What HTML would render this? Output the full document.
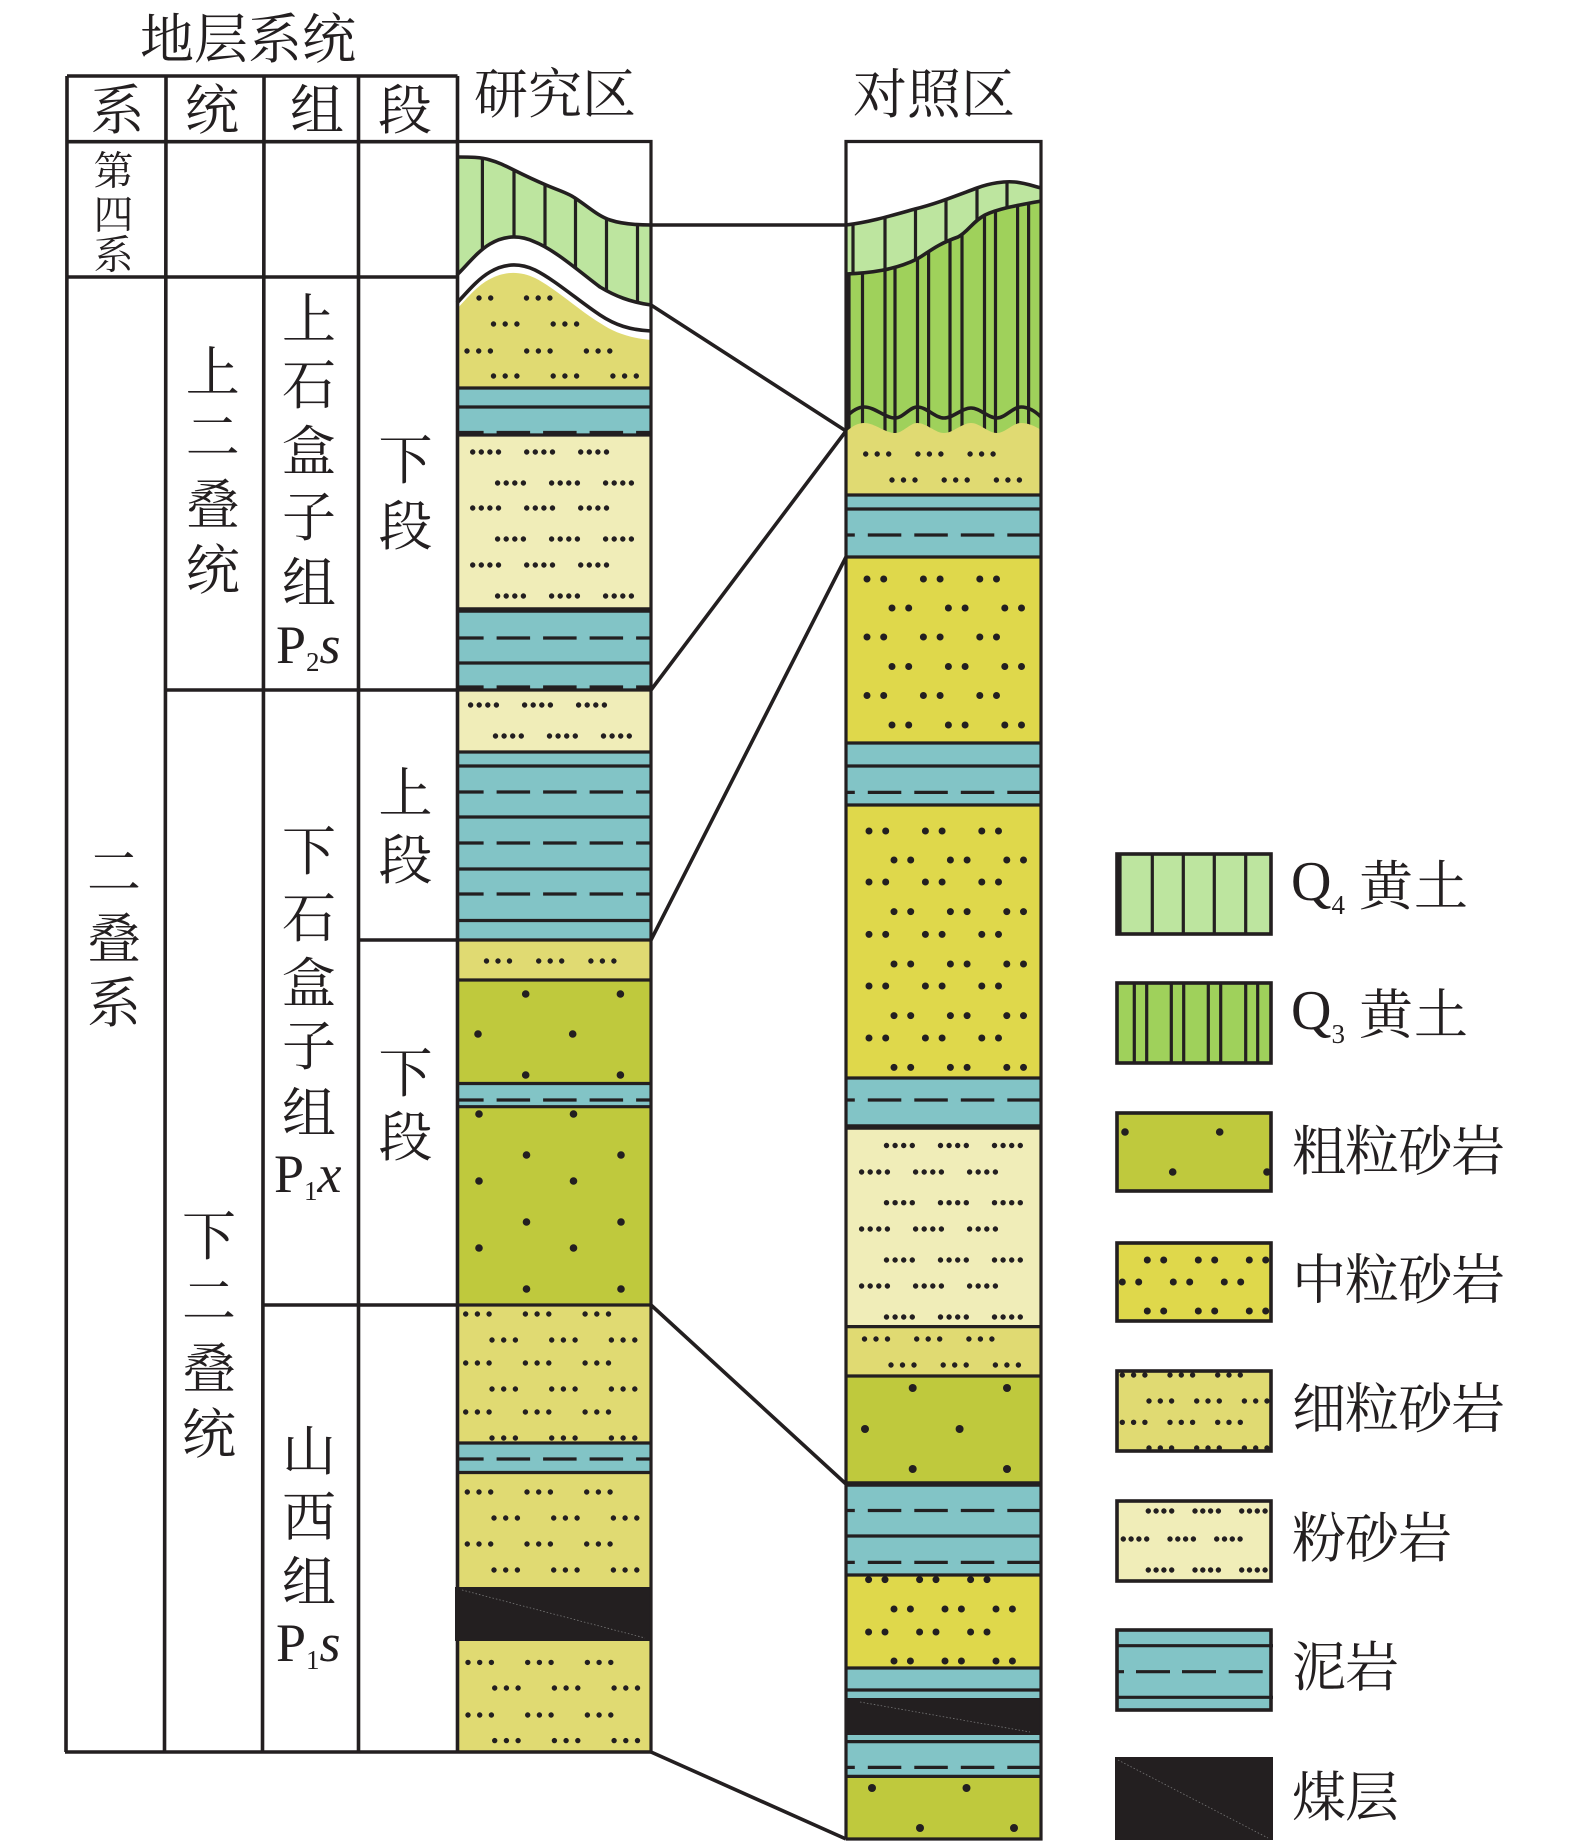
<!DOCTYPE html>
<html lang="zh"><head><meta charset="utf-8"><title>地层对比柱状图</title>
<style>
html,body{margin:0;padding:0;background:#fff}
svg{display:block}
.l{stroke:#231f20;stroke-width:3.2;fill:none}
.b{stroke:#231f20;stroke-width:3.6;fill:none}
.k{stroke:#231f20;stroke-width:5.5;fill:none}
.d{stroke:#231f20;stroke-width:3.2;fill:none;stroke-dasharray:33.5 13}
.da{stroke-dashoffset:6.9}.db{stroke-dashoffset:24.7}
.f,.g,.h,.s,.t,.m,.n{stroke:#231f20;fill:none;stroke-linecap:round;stroke-width:5.4}
.f{stroke-dasharray:0 11.7 0 11.7 0 36.3}
.g{stroke-dasharray:0 11.5 0 11.5 0 29.2}
.h{stroke-dasharray:0 11.3 0 11.3 0 25.1}
.s{stroke-dasharray:0 8.6 0 8.6 0 8.6 0 28.2}
.t{stroke-dasharray:0 7.8 0 7.8 0 7.8 0 23.3}
.m{stroke-width:7;stroke-dasharray:0 16.7 0 39.7}
.n{stroke-width:7;stroke-dasharray:0 16.4 0 34.6}
text{font-family:"Liberation Serif","Noto Serif CJK SC",serif;fill:#231f20}
.c{font-size:54px;text-anchor:middle;dominant-baseline:central;transform:translateY(3px)}
.c2{font-size:40px;text-anchor:middle;dominant-baseline:central;transform:translateY(3px)}
.p{font-size:54px}
.q{font-size:56px}
.sub{font-size:27px}
.dot{fill:#231f20}
.fa{stroke:#777;stroke-width:.8;stroke-dasharray:1.5 2;fill:none}
</style></head><body>
<svg width="1575" height="1842" viewBox="0 0 1575 1842" xmlns="http://www.w3.org/2000/svg">
<defs>
<clipPath id="qa"><path d="M457 157C470 157 481 157 490 160C505 164 515 172 546 185C560 191 568 193 575 198C590 208 598 216 610 220C622 224 636 225 651 225L651 305C630 302 615 296 600 287C580 272 555 250 535 242C520 235 505 235 490 244C478 251 468 264 457 275Z"/></clipPath>
<clipPath id="qb"><path d="M846 225C870 222 890 216 915 209C935 204 950 198 977 188C990 183 1005 181 1015 182C1025 183 1033 186 1041 188L1041 280L846 280Z"/></clipPath>
<clipPath id="qc"><path d="M846 274C870 273 895 270 917 259C928 253 935 245 958 237C968 232 972 222 985 215C1000 208 1020 205 1041 201L1041 440L846 440Z"/></clipPath>
</defs>

<!-- Column A fills -->
<path fill="#bde59f" d="M457 157C470 157 481 157 490 160C505 164 515 172 546 185C560 191 568 193 575 198C590 208 598 216 610 220C622 224 636 225 651 225L651 305C630 302 615 296 600 287C580 272 555 250 535 242C520 235 505 235 490 244C478 251 468 264 457 275Z"/>
<path fill="#e0da72" d="M457 309C468 297 478 285 490 279C505 271 520 271 535 278C555 288 580 311 600 323C615 333 630 338 651 340L651 388L457 388Z"/>
<rect x="457" y="388" width="194" height="46" fill="#82c4c6"/>
<rect x="457" y="434" width="194" height="176" fill="#f0edb8"/>
<rect x="457" y="610" width="194" height="80" fill="#82c4c6"/>
<rect x="457" y="690" width="194" height="62" fill="#f0edb8"/>
<rect x="457" y="752" width="194" height="188" fill="#82c4c6"/>
<rect x="457" y="940" width="194" height="40" fill="#e0da72"/>
<rect x="457" y="980" width="194" height="104" fill="#bfc93d"/>
<rect x="457" y="1084" width="194" height="23" fill="#82c4c6"/>
<rect x="457" y="1107" width="194" height="198" fill="#bfc93d"/>
<rect x="457" y="1305" width="194" height="138" fill="#e0da72"/>
<rect x="457" y="1443" width="194" height="30" fill="#82c4c6"/>
<rect x="457" y="1473" width="194" height="114" fill="#e0da72"/>
<rect x="455" y="1587" width="197" height="54" fill="#231f20"/>
<path class="fa" d="M462 1590L645 1638"/>
<rect x="457" y="1641" width="194" height="111" fill="#e0da72"/>

<!-- Column A Q4 verticals & curves -->
<g clip-path="url(#qa)" class="l">
<path class="l" d="M482.4 150V300M514 150V300M545 150V300M575.5 150V300M606.5 150V300M637.5 150V320"/>
</g>
<path class="b" d="M457 157C470 157 481 157 490 160C505 164 515 172 546 185C560 191 568 193 575 198C590 208 598 216 610 220C622 224 636 225 651 225"/>
<path class="b" d="M651 305C630 302 615 296 600 287C580 272 555 250 535 242C520 235 505 235 490 244C478 251 468 264 457 275"/>
<path class="b" d="M457 303C468 291 478 279 490 272C505 263 520 263 535 270C555 280 580 302 600 315C615 325 630 330 651 331"/>

<!-- Column A lines -->
<path class="l" d="M457 388H651M457 407H651M457 435H651"/>
<path class="d da" d="M457 432.5H651"/>
<path class="k" d="M457 610H651"/>
<path class="d da" d="M457 638H651"/>
<path class="l" d="M457 663H651M457 690H651M457 752H651M457 766H651M457 817H651M457 869H651M457 920.5H651M457 940H651M457 980H651M457 1083.5H651M457 1106.7H651M457 1305H651M457 1443H651M457 1472.5H651"/>
<path class="d da" d="M457 687H651M457 792H651M457 843H651M457 894H651M457 1100H651M457 1459H651"/>

<!-- Column A dots -->
<path class="f" d="M479 298h12M526.5 298h24M493.5 324h84M467 351h144M493.5 376h144"/>
<path class="s" d="M472.7 452h134M497.6 483h134M472.7 508h134M497.6 539h134M472.7 565h134M497.6 596h134M470.6 705h134M495.5 736h134"/>
<path class="g" d="M486.5 961h128"/>
<g class="dot">
<circle cx="525.7" cy="994" r="3.8"/><circle cx="620.4" cy="994" r="3.8"/>
<circle cx="478" cy="1034" r="3.8"/><circle cx="572.7" cy="1034" r="3.8"/>
<circle cx="525.7" cy="1075" r="3.8"/><circle cx="620.4" cy="1075" r="3.8"/>
<circle cx="479" cy="1114" r="3.8"/><circle cx="573.5" cy="1114" r="3.8"/>
<circle cx="526.5" cy="1155" r="3.8"/><circle cx="621" cy="1155" r="3.8"/>
<circle cx="479" cy="1181" r="3.8"/><circle cx="573.5" cy="1181" r="3.8"/>
<circle cx="526.5" cy="1222" r="3.8"/><circle cx="621" cy="1222" r="3.8"/>
<circle cx="479" cy="1248" r="3.8"/><circle cx="573.5" cy="1248" r="3.8"/>
<circle cx="526.5" cy="1289" r="3.8"/><circle cx="621" cy="1289" r="3.8"/>
</g>
<path class="f" d="M465.7 1314h144M492 1340h144M465.7 1363h144M492 1389h144M465.7 1412h144M492 1438h144M467.3 1492h144M494 1518h144M467.3 1544h144M494 1570h144M468 1662.4h144M494.7 1688h144M468 1715h144M494.7 1740.6h144"/>

<!-- Column B fills -->
<path fill="#bde59f" d="M846 225C870 222 890 216 915 209C935 204 950 198 977 188C990 183 1005 181 1015 182C1025 183 1033 186 1041 188L1041 280L846 280Z"/>
<g clip-path="url(#qb)"><path class="l" d="M853 170V290M885 170V290M915.5 170V290M946 170V290M977 170V290M1007 170V290"/></g>
<path fill="#9fd15b" d="M846 274C870 273 895 270 917 259C928 253 935 245 958 237C968 232 972 222 985 215C1000 208 1020 205 1041 201L1041 440L846 440Z"/>
<g clip-path="url(#qc)"><path class="l" d="M849 190V440M862.5 190V440M885 190V440M895 190V440M917.5 190V440M928.6 190V440M950 190V440M962 190V440M984.5 190V440M995.5 190V440M1017.6 190V440M1028.6 190V440"/></g>
<path fill="#e0da72" d="M846 432C852 426 858 423 864 423C875 423 885 433 895 433C903 433 910 423 917 423C927 423 935 433 944 433C953 433 962 423 971 423C980 423 988 433 997 433C1005 433 1013 423 1021 423C1028 423 1035 426 1041 430L1041 495L846 495Z"/>
<path class="b" d="M846 225C870 222 890 216 915 209C935 204 950 198 977 188C990 183 1005 181 1015 182C1025 183 1033 186 1041 188"/>
<path class="b" d="M846 274C870 273 895 270 917 259C928 253 935 245 958 237C968 232 972 222 985 215C1000 208 1020 205 1041 201"/>
<path class="b" d="M846 417C852 411 858 407 864 407C875 407 885 418 895 418C903 418 910 407 917 407C927 407 935 418 944 418C953 418 962 408 971 408C980 408 988 418 997 418C1005 418 1013 407 1021 407C1028 407 1035 411 1041 417"/>
<rect x="846" y="495" width="195" height="62" fill="#82c4c6"/>
<rect x="846" y="557" width="195" height="186" fill="#dfd84b"/>
<rect x="846" y="743" width="195" height="62" fill="#82c4c6"/>
<rect x="846" y="805" width="195" height="273" fill="#dfd84b"/>
<rect x="846" y="1078" width="195" height="49" fill="#82c4c6"/>
<rect x="846" y="1127" width="195" height="200" fill="#f0edb8"/>
<rect x="846" y="1327" width="195" height="49" fill="#e0da72"/>
<rect x="846" y="1376" width="195" height="108" fill="#bfc93d"/>
<rect x="846" y="1484" width="195" height="91" fill="#82c4c6"/>
<rect x="846" y="1575" width="195" height="93" fill="#dfd84b"/>
<rect x="846" y="1668" width="195" height="30" fill="#82c4c6"/>
<rect x="846" y="1698" width="195" height="37" fill="#231f20"/>
<path class="fa" d="M860 1702L1030 1732"/>
<rect x="846" y="1735" width="195" height="41" fill="#82c4c6"/>
<rect x="846" y="1776" width="195" height="63" fill="#bfc93d"/>

<!-- Column B lines -->
<path class="l" d="M846 495H1041M846 509H1041M846 557H1041M846 743H1041M846 766H1041M846 805H1041M846 1078H1041M846 1326.6H1041M846 1376H1041M846 1536H1041M846 1575H1041M846 1668H1041M846 1690H1041M846 1741.6H1041M846 1776.4H1041"/>
<path class="k" d="M846 1127H1041M846 1484H1041"/>
<path class="d db" d="M846 535H1041M846 792.4H1041M846 1100H1041M846 1510.5H1041M846 1562.4H1041M846 1767.4H1041"/>

<!-- Column B dots -->
<path class="g" d="M865.7 454h128M892 480h128M864.5 1339h128M891 1365h128"/>
<path class="m" d="M867 579h130M892 608h130M867 637h130M892 666.5h130M867 695.5h130M892 725h130M869 831h130M894 860h130M869 882h130M894 911.6h130M869 934.4h130M894 964h130M869 986h130M894 1015.6h130M869 1038h130M894 1067.4h130"/>
<path class="s" d="M886.5 1145.5h134M861.6 1172h134M886.5 1202.7h134M861.6 1229h134M886.5 1260h134M861.6 1286h134M886.5 1317h134"/>
<path class="n" d="M868.6 1579.6h119M894 1609h119M868.6 1632h119M894 1661h119"/>
<g class="dot">
<circle cx="912.7" cy="1388" r="4"/><circle cx="1007" cy="1388" r="4"/>
<circle cx="865" cy="1429" r="4"/><circle cx="959.6" cy="1429" r="4"/>
<circle cx="912.7" cy="1469" r="4"/><circle cx="1007" cy="1469" r="4"/>
<circle cx="872" cy="1788" r="4"/><circle cx="966.5" cy="1788" r="4"/>
<circle cx="920" cy="1828" r="4"/><circle cx="1014" cy="1828" r="4"/>
</g>

<!-- Column outlines -->
<path class="l" d="M457.5 141.5H651V1752M846 1839V141.5H1041V1839H846"/>

<!-- Connectors -->
<path class="b" d="M651 225H846M651 305L846 431M651 690L846 431M651 940L846 557M651 1305L846 1484M651 1752L846 1839"/>

<!-- Table -->
<path class="b" d="M67 76H457.5M67 141.7H457.5M67 277H457.5M165 690H457.5M358.5 940H457.5M263.5 1305H457.5M65 1752H651"/>
<path class="b" d="M67 76L66 1752M166 76L164.5 1752M264 76L262.5 1752M358.5 76V1752M457.5 76V1752"/>

<!-- Table text -->
<text class="c" x="248" y="37">地层系统</text>
<text class="c" x="117.5" y="108">系</text><text class="c" x="212" y="108">统</text><text class="c" x="317" y="108">组</text><text class="c" x="405" y="108">段</text>
<text class="c" x="555" y="92">研究区</text><text class="c" x="934" y="92">对照区</text>
<text class="c2" x="113.5" y="168">第</text><text class="c2" x="113.5" y="212">四</text><text class="c2" x="113.5" y="252">系</text>
<text class="c" x="114" y="870">二</text><text class="c" x="114" y="937">叠</text><text class="c" x="114" y="1001">系</text>
<text class="c" x="212.7" y="370">上</text><text class="c" x="212.7" y="435">二</text><text class="c" x="212.7" y="503">叠</text><text class="c" x="212.7" y="568">统</text>
<text class="c" x="309" y="317">上</text><text class="c" x="309" y="383">石</text><text class="c" x="309" y="449">盒</text><text class="c" x="309" y="515">子</text><text class="c" x="309" y="581">组</text>
<text class="p" x="276" y="663">P<tspan class="sub" dy="8">2</tspan><tspan font-style="italic" dy="-8">s</tspan></text>
<text class="c" x="405.5" y="458">下</text><text class="c" x="405.5" y="524">段</text>
<text class="c" x="405.5" y="791">上</text><text class="c" x="405.5" y="858">段</text>
<text class="c" x="405.5" y="1071">下</text><text class="c" x="405.5" y="1135">段</text>
<text class="c" x="309" y="849">下</text><text class="c" x="309" y="916">石</text><text class="c" x="309" y="981">盒</text><text class="c" x="309" y="1044">子</text><text class="c" x="309" y="1111">组</text>
<text class="p" x="274" y="1192">P<tspan class="sub" dy="8">1</tspan><tspan font-style="italic" dy="-8">x</tspan></text>
<text class="c" x="209" y="1234">下</text><text class="c" x="209" y="1299">二</text><text class="c" x="209" y="1367">叠</text><text class="c" x="209" y="1432">统</text>
<text class="c" x="309" y="1449">山</text><text class="c" x="309" y="1515">西</text><text class="c" x="309" y="1580">组</text>
<text class="p" x="276" y="1661">P<tspan class="sub" dy="8">1</tspan><tspan font-style="italic" dy="-8">s</tspan></text>

<!-- Legend -->
<rect x="1117" y="854" width="154" height="80" style="fill:#bde59f" class="b"/>
<path class="l" d="M1120 854V934M1152.3 854V934M1183.3 854V934M1214.3 854V934M1245.7 854V934"/>
<rect x="1117" y="983" width="154" height="80" style="fill:#9fd15b" class="b"/>
<path class="l" d="M1134.3 983V1063M1146.7 983V1063M1171.3 983V1063M1183.7 983V1063M1208.3 983V1063M1220.7 983V1063M1245.7 983V1063M1257.7 983V1063"/>
<rect x="1117" y="1113" width="154" height="78" style="fill:#bfc93d" class="b"/>
<g class="dot"><circle cx="1125" cy="1132" r="3.8"/><circle cx="1219.7" cy="1132" r="3.8"/><circle cx="1172.7" cy="1172" r="3.8"/><circle cx="1267" cy="1172" r="3.8"/></g>
<rect x="1117" y="1243" width="154" height="78" style="fill:#dfd84b" class="b"/>
<path class="n" d="M1147.3 1260h119M1122.3 1282h119M1147.3 1311h119"/>
<rect x="1117" y="1371" width="154" height="80" style="fill:#e0da72" class="b"/>
<path class="h" d="M1122.3 1375h119M1149 1401h119M1122.3 1422.3h119M1149 1448h119"/>
<rect x="1117" y="1501" width="154" height="80" style="fill:#f0edb8" class="b"/>
<path class="t" d="M1148.3 1511h117M1123.3 1539h117M1148.3 1570h117"/>
<rect x="1117" y="1630" width="154" height="80" style="fill:#82c4c6" class="b"/>
<path class="l" d="M1117 1645.7H1273M1117 1697.3H1273M1136 1671.7h34M1182 1671.7h34M1228.7 1671.7h34M1117 1671.7h7"/>
<rect x="1115" y="1757" width="158" height="83" fill="#231f20"/>
<path class="fa" d="M1118 1760L1268 1838"/>
<text class="q" x="1291" y="900">Q<tspan class="sub" dy="14">4</tspan></text>
<text class="c" x="1386" y="884">黄</text><text class="c" x="1441" y="884">土</text>
<text class="q" x="1291" y="1029">Q<tspan class="sub" dy="14">3</tspan></text>
<text class="c" x="1386" y="1012.5">黄</text><text class="c" x="1441" y="1012.5">土</text>
<text class="c" x="1319" y="1149">粗</text><text class="c" x="1372" y="1149">粒</text><text class="c" x="1425.5" y="1149">砂</text><text class="c" x="1478" y="1149">岩</text>
<text class="c" x="1319" y="1277.5">中</text><text class="c" x="1372" y="1277.5">粒</text><text class="c" x="1425.5" y="1277.5">砂</text><text class="c" x="1478" y="1277.5">岩</text>
<text class="c" x="1319" y="1406.7">细</text><text class="c" x="1372" y="1406.7">粒</text><text class="c" x="1425.5" y="1406.7">砂</text><text class="c" x="1478" y="1406.7">岩</text>
<text class="c" x="1319" y="1536">粉</text><text class="c" x="1372" y="1536">砂</text><text class="c" x="1425" y="1536">岩</text>
<text class="c" x="1319" y="1665">泥</text><text class="c" x="1372" y="1665">岩</text>
<text class="c" x="1319" y="1795">煤</text><text class="c" x="1372" y="1795">层</text>
</svg>
</body></html>
